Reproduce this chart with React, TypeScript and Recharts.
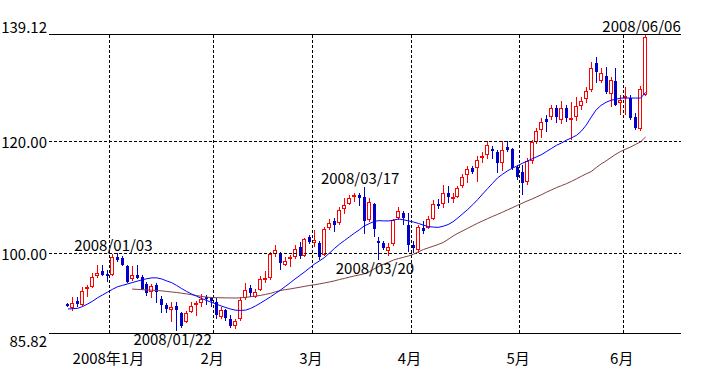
import { ComposedChart, Bar, Line, XAxis, YAxis, ReferenceLine, ReferenceDot } from "recharts"

// trading days shown on the chart
const dates = [
  "2007/12/18", "2007/12/19", "2007/12/20", "2007/12/21", "2007/12/24", "2007/12/26", "2007/12/27", "2007/12/28", "2007/12/31",
  "2008/01/02", "2008/01/03", "2008/01/04", "2008/01/07", "2008/01/08", "2008/01/09", "2008/01/10", "2008/01/11", "2008/01/14",
  "2008/01/15", "2008/01/16", "2008/01/17", "2008/01/18", "2008/01/22", "2008/01/23", "2008/01/24", "2008/01/25", "2008/01/28",
  "2008/01/29", "2008/01/30", "2008/01/31",
  "2008/02/01", "2008/02/04", "2008/02/05", "2008/02/06", "2008/02/07", "2008/02/08", "2008/02/11", "2008/02/12", "2008/02/13",
  "2008/02/14", "2008/02/15", "2008/02/19", "2008/02/20", "2008/02/21", "2008/02/22", "2008/02/25", "2008/02/26", "2008/02/27",
  "2008/02/28", "2008/02/29",
  "2008/03/03", "2008/03/04", "2008/03/05", "2008/03/06", "2008/03/07", "2008/03/10", "2008/03/11", "2008/03/12", "2008/03/13",
  "2008/03/14", "2008/03/17", "2008/03/18", "2008/03/19", "2008/03/20", "2008/03/24", "2008/03/25", "2008/03/26", "2008/03/27",
  "2008/03/28", "2008/03/31",
  "2008/04/01", "2008/04/02", "2008/04/03", "2008/04/04", "2008/04/07", "2008/04/08", "2008/04/09", "2008/04/10", "2008/04/11",
  "2008/04/14", "2008/04/15", "2008/04/16", "2008/04/17", "2008/04/18", "2008/04/21", "2008/04/22", "2008/04/23", "2008/04/24",
  "2008/04/25", "2008/04/28", "2008/04/29", "2008/04/30",
  "2008/05/01", "2008/05/02", "2008/05/05", "2008/05/06", "2008/05/07", "2008/05/08", "2008/05/09", "2008/05/12", "2008/05/13",
  "2008/05/14", "2008/05/15", "2008/05/16", "2008/05/19", "2008/05/20", "2008/05/21", "2008/05/22", "2008/05/23", "2008/05/27",
  "2008/05/28", "2008/05/29", "2008/05/30",
  "2008/06/02", "2008/06/03", "2008/06/04", "2008/06/05", "2008/06/06",
]

const open = [
  91.0, 90.3, 91.5, 90.9, 93.6, 94.0, 96.0, 96.9, 96.3,
  96.1, 99.3, 99.2, 97.8, 95.4, 96.2, 95.8, 94.5, 93.2, 94.4, 91.8, 90.9, 89.9, 90.7, 89.3, 87.8, 89.6, 90.8, 91.1, 92.2, 92.0,
  91.4, 88.7, 89.9, 88.3, 87.1, 88.4, 92.0, 93.8, 92.2, 93.5, 95.3, 95.6, 99.9, 100.1, 97.9, 99.1, 99.3, 101.2, 99.6, 103.0,
  101.9, 101.9, 99.8, 104.6, 105.8, 105.4, 108.0, 108.9, 110.1, 110.4, 110.1, 106.0, 108.8, 102.2, 101.8, 100.5, 101.6, 106.3, 107.2, 105.1,
  101.5, 100.7, 104.5, 104.6, 106.2, 108.9, 108.9, 110.7, 109.7, 110.1, 112.0, 114.0, 115.2, 115.2, 117.0, 117.6, 118.6, 118.1, 116.2, 119.0, 118.7, 115.5,
  114.6, 112.8, 116.4, 119.9, 122.0, 123.9, 124.4, 126.0, 123.8, 126.0, 123.8, 124.4, 126.3, 127.6, 129.2, 134.0, 130.8, 131.6, 128.4, 130.8, 126.8,
  127.7, 127.7, 124.3, 122.1, 128.3,
]
const high = [
  91.1, 92.3, 92.3, 94.0, 94.4, 96.5, 97.9, 97.9, 97.1,
  99.85, 100.0, 99.5, 98.0, 97.7, 97.9, 96.2, 95.0, 94.5, 94.7, 92.4, 91.2, 91.3, 91.4, 89.5, 89.8, 91.3, 91.5, 92.7, 92.6, 92.2,
  92.1, 90.4, 90.1, 89.0, 88.4, 92.2, 94.8, 94.3, 93.6, 95.9, 96.8, 100.3, 101.5, 100.3, 99.4, 99.7, 101.5, 102.0, 102.8, 103.3,
  104.1, 102.2, 104.8, 106.2, 106.4, 108.3, 109.9, 110.5, 110.7, 110.7, 111.9, 109.8, 109.0, 103.0, 102.3, 101.9, 106.2, 108.2, 107.6, 107.2,
  102.3, 105.0, 105.8, 106.6, 109.5, 109.7, 112.2, 112.1, 110.7, 112.0, 114.1, 115.6, 115.6, 117.3, 118.0, 120.0, 119.1, 118.4, 120.0, 120.0, 118.8, 115.8,
  115.7, 117.0, 120.3, 122.3, 124.1, 124.7, 126.5, 126.5, 127.1, 126.4, 127.0, 127.9, 127.9, 129.7, 134.2, 135.0, 133.1, 133.3, 131.5, 133.0, 128.2,
  129.6, 128.3, 125.0, 129.8, 139.12,
]
const low = [
  90.5, 89.8, 90.5, 90.7, 92.3, 93.9, 95.6, 95.9, 95.0,
  96.0, 98.5, 97.8, 94.7, 95.1, 95.4, 93.4, 92.4, 92.0, 91.1, 89.3, 89.4, 87.8, 86.2, 86.8, 87.6, 89.4, 88.8, 90.5, 90.8, 90.5,
  88.4, 88.4, 88.0, 86.8, 86.5, 88.0, 91.7, 92.3, 92.0, 93.3, 94.8, 95.3, 99.4, 97.0, 97.7, 97.6, 99.0, 99.0, 99.3, 101.6,
  101.1, 98.9, 99.6, 104.2, 103.8, 105.0, 107.1, 108.6, 109.2, 108.5, 103.5, 105.6, 103.0, 98.9, 100.6, 99.5, 101.3, 105.9, 105.0, 100.3,
  100.0, 100.0, 103.5, 104.3, 106.0, 108.0, 108.1, 109.0, 109.0, 109.8, 111.6, 112.5, 114.1, 112.8, 116.1, 116.8, 116.9, 114.3, 114.7, 118.0, 114.8, 113.1,
  110.4, 112.2, 116.0, 119.6, 120.6, 121.7, 123.8, 123.3, 123.1, 123.4, 120.3, 123.6, 125.6, 126.8, 128.7, 130.3, 130.4, 128.4, 126.1, 126.2, 124.7,
  124.7, 123.8, 122.0, 121.8, 128.0,
]
const close = [
  90.6, 91.2, 91.0, 93.3, 94.0, 95.8, 96.5, 96.1, 96.0,
  99.4, 98.9, 98.0, 95.0, 96.2, 95.6, 93.6, 92.9, 94.2, 93.2, 90.8, 90.1, 90.5, 89.9, 87.0, 89.4, 90.7, 91.1, 91.8, 91.9, 91.6,
  89.0, 89.9, 88.5, 87.0, 87.9, 91.7, 93.5, 92.9, 93.2, 95.5, 95.6, 99.9, 100.6, 98.3, 98.6, 99.4, 100.8, 99.6, 102.5, 102.0,
  102.4, 99.4, 104.3, 105.5, 105.1, 107.8, 108.7, 109.9, 110.4, 109.9, 105.7, 109.2, 104.4, 101.8, 100.9, 101.2, 105.9, 107.5, 106.3, 101.5,
  101.0, 104.7, 104.0, 106.1, 108.9, 108.4, 110.8, 110.1, 110.0, 111.6, 113.6, 115.0, 114.6, 116.7, 117.4, 119.3, 118.2, 116.1, 118.4, 118.5, 115.2, 113.6,
  112.5, 116.4, 119.9, 121.8, 123.4, 123.5, 126.0, 124.4, 125.9, 124.1, 124.1, 126.3, 127.1, 129.0, 133.0, 132.4, 132.2, 128.8, 130.9, 126.4, 127.4,
  128.0, 124.1, 122.3, 129.4, 138.5,
]

// moving averages as drawn (blue = short, brown = long)
const maShort = [
  90.1, 90.15, 90.23, 90.55, 91.0, 91.5, 92.1, 92.6, 93.1,
  93.6, 94.05, 94.3, 94.55, 94.8, 95.05, 95.3, 95.5, 95.65, 95.65, 95.45, 95.1, 94.8, 94.3, 93.75, 93.25, 92.8, 92.4, 92.0, 91.65, 91.3,
  91.0, 90.65, 90.35, 90.08, 89.88, 89.85, 89.9, 90.2, 90.65, 91.15, 91.7, 92.25, 92.85, 93.45, 94.1, 94.75, 95.45, 96.1, 96.75, 97.45,
  98.15, 98.7, 99.3, 100.1, 100.9, 101.65, 102.3, 102.95, 103.6, 104.2, 104.9, 105.3, 105.7, 105.85, 105.8, 105.8, 105.95, 106.15, 106.0, 105.8,
  105.6, 105.35, 105.05, 104.8, 104.7, 104.65, 104.85, 105.15, 105.65, 106.35, 107.1, 107.85, 108.7, 109.6, 110.6, 111.55, 112.5, 113.45, 114.1, 114.7, 115.2, 115.6,
  116.05, 116.45, 116.85, 117.25, 117.65, 118.2, 118.75, 119.3, 119.7, 120.2, 120.6, 121.05, 121.8, 122.9, 124.3, 125.6, 126.4, 126.95, 127.3, 127.5, 127.7,
  127.7, 127.7, 127.7, 127.7, 128.7,
]
const maLong = [
  null, null, null, null, null, null, null, null, null,
  null, null, null, null, 93.65, 93.6, 93.55, 93.5, 93.45, 93.4, 93.33, 93.23, 93.13, 93.04, 92.92, 92.8, 92.65, 92.5, 92.35, 92.22, 92.15,
  92.11, 92.1, 92.08, 92.07, 92.06, 92.08, 92.18, 92.29, 92.4, 92.52, 92.7, 92.88, 93.15, 93.38, 93.55, 93.67, 93.83, 93.98, 94.15, 94.3,
  94.43, 94.58, 94.75, 94.92, 95.12, 95.35, 95.55, 95.78, 95.98, 96.17, 96.36, 96.7, 97.25, 97.7, 98.1, 98.45, 98.85, 99.1, 99.33, 99.56,
  99.85, 100.3, 100.7, 101.0, 101.3, 101.6, 101.95, 102.5, 103.1, 103.6, 104.05, 104.5, 104.95, 105.4, 105.8, 106.2, 106.6, 106.95, 107.35, 107.75, 108.15, 108.55,
  108.95, 109.35, 109.7, 110.1, 110.5, 110.95, 111.35, 111.75, 112.1, 112.45, 112.85, 113.3, 113.75, 114.2, 114.6, 115.3, 115.95, 116.5, 117.1, 117.7, 118.2,
  118.6, 119.0, 119.45, 119.9, 120.75,
]

const monthTicks = ["2008/01/02", "2008/02/01", "2008/03/03", "2008/04/01", "2008/05/01", "2008/06/02"]
const monthLabels = ["2008年1月", "2月", "3月", "4月", "5月", "6月"]
const yTicks = [85.82, 100, 120, 139.12]
const marks = [
  { date: "2008/01/03", value: 100.0, above: true },
  { date: "2008/01/22", value: 86.2, above: false },
  { date: "2008/03/17", value: 111.9, above: true },
  { date: "2008/03/20", value: 98.9, above: false },
  { date: "2008/06/06", value: 139.12, above: true },
]

const data = dates.map((d, i) => ({
  date: d,
  open: open[i],
  high: high[i],
  low: low[i],
  close: close[i],
  range: [low[i], high[i]],
  maShort: maShort[i],
  maLong: maLong[i],
}))

const FONT = "'Noto Sans CJK JP', sans-serif"
const DASH = "3 2"

function Candle(props: any) {
  const { x, y, width, height, payload } = props
  if (!payload || height == null) return null
  const { open, close, high, low } = payload
  const py = (v: number) => y + ((high - v) / (high - low)) * height
  const cx = Math.floor(x + width / 2)
  const up = close >= open
  const top = Math.round(py(Math.max(open, close)))
  const bot = Math.max(Math.round(py(Math.min(open, close))), top + 1)
  if (up) {
    return (
      <g shapeRendering="crispEdges">
        <line x1={cx + 0.5} x2={cx + 0.5} y1={y} y2={y + height} stroke="#ff0000" />
        <rect x={cx - 1.5} y={top + 0.5} width={3} height={Math.max(bot - top - 1, 1)} fill="#ffffff" stroke="#ff0000" />
      </g>
    )
  }
  return (
    <g shapeRendering="crispEdges">
      <line x1={cx + 0.5} x2={cx + 0.5} y1={y} y2={y + height} stroke="#0000c8" />
      <rect x={cx - 1} y={top} width={3} height={bot - top} fill="#0000c8" />
    </g>
  )
}

function MonthTick(props: any) {
  const { x, payload } = props
  const idx = monthTicks.indexOf(payload.value)
  return (
    <text x={x - 4} y={357} textAnchor="middle" dominantBaseline="central" fontSize={15} fontFamily={FONT} fill="#000">
      {monthLabels[idx]}
    </text>
  )
}

function PriceTick(props: any) {
  const { y, payload } = props
  const v = payload.value
  let dy = 0
  if (v === yTicks[yTicks.length - 1]) dy = -8
  if (v === yTicks[0]) dy = 7
  return (
    <text x={47} y={y + dy} textAnchor="end" dominantBaseline="central" fontSize={15} fontFamily={FONT} fill="#000">
      {v.toFixed(2)}
    </text>
  )
}

export default function App() {
  return (
    <div style={{ position: "absolute", left: 0, top: 0, width: 714, height: 381, background: "#fff", fontFamily: FONT }}>
      <ComposedChart width={714} height={381} data={data} margin={{ top: 34, right: 33, bottom: 0, left: 0 }}>
        <XAxis
          dataKey="date"
          ticks={monthTicks}
          interval={0}
          tick={<MonthTick />}
          axisLine={false}
          tickLine={false}
          height={48}
          padding={{ left: 16.5, right: 33 }}
        />
        <YAxis
          type="number"
          domain={[85.82, 139.12]}
          ticks={yTicks}
          allowDataOverflow
          tick={<PriceTick />}
          axisLine={false}
          tickLine={false}
          width={49}
        />
        {monthTicks.map((m) => (
          <ReferenceLine key={m} x={m} position="start" stroke="#000" strokeDasharray={DASH} shapeRendering="crispEdges" />
        ))}
        <ReferenceLine y={100} stroke="#000" strokeDasharray={DASH} shapeRendering="crispEdges" />
        <ReferenceLine y={120} stroke="#000" strokeDasharray={DASH} shapeRendering="crispEdges" />
        <ReferenceLine y={139.12} stroke="#000" shapeRendering="crispEdges" />
        <ReferenceLine y={85.82} stroke="#000" shapeRendering="crispEdges" />
        <Bar dataKey="range" shape={<Candle />} isAnimationActive={false} />
        <Line dataKey="maLong" stroke="#804040" strokeWidth={1} dot={false} isAnimationActive={false} />
        <Line dataKey="maShort" stroke="#0000ff" strokeWidth={1} dot={false} isAnimationActive={false} />
        {marks.map((m) => (
          <ReferenceDot
            key={m.date}
            x={m.date}
            y={m.value}
            r={0}
            ifOverflow="visible"
            shape={(p: any) => (
              <text
                x={p.cx - 4}
                y={m.above ? p.cy - 9 : p.cy + 8}
                textAnchor="middle"
                dominantBaseline="central"
                fontSize={15}
                fontFamily={FONT}
                fill="#000"
              >
                {m.date}
              </text>
            )}
          />
        ))}
      </ComposedChart>
    </div>
  )
}
